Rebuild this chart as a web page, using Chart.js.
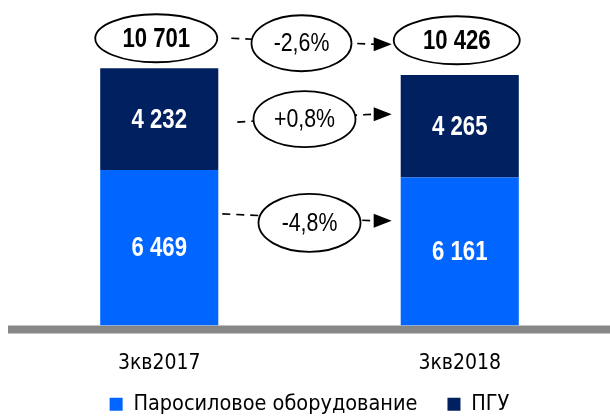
<!DOCTYPE html>
<html>
<head>
<meta charset="utf-8">
<script src="https://cdn.jsdelivr.net/npm/chart.js@4.4.1/dist/chart.umd.min.js"></script>
<style>
  html, body { margin: 0; padding: 0; background: #fff; }
  #wrap { width: 610px; height: 416px; position: relative; }
</style>
</head>
<body>
<div id="wrap"><canvas id="myChart"></canvas></div>
<script>
// data
var categories = ['3кв2017', '3кв2018'];
var seriesNames = ['Паросиловое оборудование', 'ПГУ'];
var steamValues = [6469, 6161];
var ccgtValues = [4232, 4265];

var wAxisFont = "'DejaVu Sans Condensed', 'Liberation Sans', sans-serif";
var wNarrow = "'Liberation Sans', Arial, sans-serif";
var wLight = '#0066FF';
var wNavy = '#002060';

function fmt(n) {
    return String(n).replace(/\B(?=(\d{3})+(?!\d))/g, ' ');
}
function pct(a, b) {
    var v = (b / a - 1) * 100;
    var s = v.toFixed(1).replace('.', ',') + '%';
    return v > 0 ? '+' + s : s;
}

var totals = categories.map(function (c, i) { return steamValues[i] + ccgtValues[i]; });

// narrow text: Liberation Sans squeezed like Arial Narrow
function narrowText(ctx, txt, x, y, font) {
    ctx.save();
    ctx.font = font;
    ctx.translate(x, y);
    ctx.scale(0.82, 1);
    ctx.fillText(txt, 0, 0);
    ctx.restore();
}

var annotPlugin = {
    id: 'annot',
    afterLayout: function (chart) {
        // x labels hang below the (short) axis box, so widen their clip area
        var sx = chart.scales.x;
        sx.bottom = sx.top + 52;
    },
    beforeDatasetsDraw: function (chart) {
        var ctx = chart.ctx;
        var ca = chart.chartArea;
        ctx.save();
        ctx.fillStyle = '#878787';
        ctx.fillRect(8, ca.bottom, chart.width - 8, 8);
        ctx.restore();
    },
    afterDatasetsDraw: function (chart) {
        var ctx = chart.ctx;
        var y = chart.scales.y;
        ctx.save();
        ctx.textAlign = 'center';
        ctx.textBaseline = 'middle';

        // values in segments
        chart.data.datasets.forEach(function (ds, di) {
            var meta = chart.getDatasetMeta(di);
            meta.data.forEach(function (bar, i) {
                ctx.fillStyle = '#fff';
                narrowText(ctx, fmt(ds.data[i]), bar.x, (bar.y + bar.base) / 2 + 1, 'bold 27px ' + wNarrow);
            });
        });

        var b0 = chart.getDatasetMeta(1).data[0];
        var b1 = chart.getDatasetMeta(1).data[1];
        var w = b0.width;
        var x0r = b0.x + w / 2;
        var x1l = b1.x - w / 2;
        var midX = (x0r + x1l) / 2;

        function ellipse(cx, cy, rx, ry) {
            ctx.beginPath();
            ctx.ellipse(cx, cy, rx, ry, 0, 0, Math.PI * 2);
            ctx.fillStyle = '#fff';
            ctx.fill();
            ctx.lineWidth = 1.8;
            ctx.strokeStyle = '#000';
            ctx.stroke();
        }
        function arrow(xa, ya, xb, yb) {
            ctx.beginPath();
            ctx.setLineDash([8, 6]);
            ctx.lineWidth = 1.6;
            ctx.strokeStyle = '#000';
            ctx.moveTo(xa, ya);
            ctx.lineTo(xb - 17, yb);
            ctx.stroke();
            ctx.setLineDash([]);
            ctx.beginPath();
            ctx.moveTo(xb, yb);
            ctx.lineTo(xb - 18, yb - 7);
            ctx.lineTo(xb - 18, yb + 7);
            ctx.closePath();
            ctx.fillStyle = '#000';
            ctx.fill();
        }

        // change ellipses: [label, center y, x shift, rx, ry]
        var topY = y.getPixelForValue(Math.max.apply(null, totals)) - 30;
        var rows = [
            [pct(totals[0], totals[1]), topY + 5, -8, 50, 28],
            [pct(ccgtValues[0], ccgtValues[1]), y.getPixelForValue(steamValues[0] + ccgtValues[0] / 2), -5, 51, 28],
            [pct(steamValues[0], steamValues[1]), y.getPixelForValue(steamValues[0] * 0.66), 0, 51, 29]
        ];
        // arrow tweaks: [left y, right y, start gap from bar]
        var dy = [[-5, 1, 13], [3, -5, 19], [-9, -2, 4]];
        rows.forEach(function (r, k) {
            var cy = r[1];
            arrow(x0r + dy[k][2], cy + dy[k][0], x1l - 9, cy + dy[k][1]);
        });
        rows.forEach(function (r, k) {
            var cy = r[1];
            ellipse(midX + r[2], cy, r[3], r[4]);
            ctx.fillStyle = '#000';
            narrowText(ctx, r[0], midX + r[2], cy + 1, '26px ' + wNarrow);
        });

        // totals
        [b0, b1].forEach(function (bar, i) {
            var cx = bar.x - 3;
            var cy = topY + (i == 0 ? 0 : 2);
            ellipse(cx, cy, i == 0 ? 61 : 63, 24);
            ctx.fillStyle = '#000';
            narrowText(ctx, fmt(totals[i]), cx, cy + 1, 'bold 27px ' + wNarrow);
        });
        ctx.restore();
    }
};

var ctx = document.getElementById('myChart').getContext('2d');
var myChart = new Chart(ctx, {
    type: 'bar',
    data: {
        labels: categories,
        datasets: [{
            label: seriesNames[0],
            data: steamValues,
            backgroundColor: wLight,
            borderWidth: 0
        }, {
            label: seriesNames[1],
            data: ccgtValues,
            backgroundColor: wNavy,
            borderWidth: 0
        }]
    },
    options: {
        responsive: true,
        maintainAspectRatio: false,
        animation: false,
        layout: { padding: { top: 13, left: 9, right: 0, bottom: -9 } },
        datasets: {
            bar: { barPercentage: 0.393, categoryPercentage: 1 }
        },
        scales: {
            x: {
                stacked: true,
                grid: { display: false, drawTicks: false },
                border: { display: false },
                ticks: { color: '#000', padding: 25, font: { family: wAxisFont, size: 21 } },
                afterFit: function (scale) { scale.height = 38; }
            },
            y: {
                stacked: true,
                display: false,
                min: 0,
                max: 13000
            }
        },
        plugins: {
            legend: {
                position: 'bottom',
                labels: {
                    color: '#000',
                    boxWidth: 13,
                    boxHeight: 13,
                    padding: 30,
                    font: { family: wAxisFont, size: 21.5 }
                }
            },
            tooltip: { enabled: false }
        }
    },
    plugins: [annotPlugin]
});
</script>
</body>
</html>
